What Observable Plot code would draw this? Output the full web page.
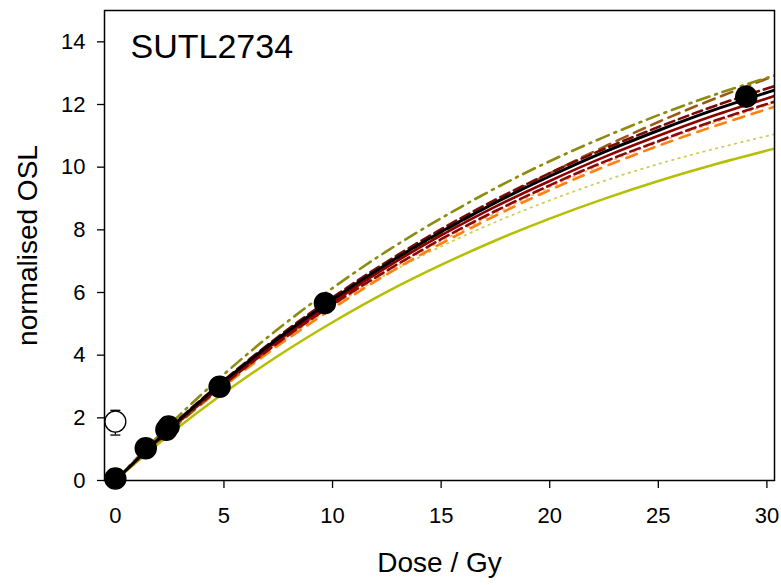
<!DOCTYPE html>
<html>
<head>
<meta charset="utf-8">
<script src="https://cdn.jsdelivr.net/npm/d3@7"></script>
<script src="https://cdn.jsdelivr.net/npm/@observablehq/plot@0.6"></script>
<style>
  html, body { margin: 0; padding: 0; background: #fff; }
  #chart { width: 781px; height: 585px; }
  svg { font-family: "Liberation Sans", Arial, sans-serif; }
</style>
</head>
<body>
<div id="chart"></div>
<script>
// ---- data ----
const sampleLabel = "SUTL2734";
const xTicks = [0, 5, 10, 15, 20, 25, 30];
const yTicks = [0, 2, 4, 6, 8, 10, 12, 14];

const doseGrid = [0, 2.5, 5, 7.5, 10, 12.5, 15, 17.5, 20, 22.5, 25, 27.5, 30.4];

const curveBlack       = [0, 1.66, 3.17, 4.54, 5.78, 6.91, 7.94, 8.87, 9.71, 10.48, 11.17, 11.81, 12.47];
const curveRedSolid    = [0, 1.64, 3.12, 4.47, 5.69, 6.81, 7.82, 8.74, 9.56, 10.32, 11.00, 11.63, 12.28];
const curveRedDashHi   = [0, 1.68, 3.20, 4.59, 5.84, 6.98, 8.02, 8.96, 9.81, 10.58, 11.28, 11.93, 12.60];
const curveRedDashLo   = [0, 1.61, 3.07, 4.40, 5.61, 6.70, 7.70, 8.60, 9.42, 10.17, 10.83, 11.46, 12.10];
const curveOlive       = [0, 1.78, 3.39, 4.84, 6.14, 7.32, 8.37, 9.33, 10.19, 10.96, 11.66, 12.29, 12.94];
const curveBrown       = [0, 1.58, 3.05, 4.41, 5.66, 6.82, 7.89, 8.88, 9.80, 10.65, 11.44, 12.16, 12.93];
const curveOrange      = [0, 1.57, 3.01, 4.31, 5.49, 6.58, 7.56, 8.45, 9.27, 10.01, 10.68, 11.29, 11.94];
const curveOrangeDot   = [0, 1.59, 3.04, 4.35, 5.54, 6.65, 7.64, 8.53, 9.36, 10.11, 10.79, 11.40, 12.06];
const curveLimeDot     = [0, 1.66, 3.13, 4.42, 5.57, 6.58, 7.47, 8.25, 8.94, 9.56, 10.10, 10.57, 11.06];
const curveLimeSolid   = [0, 1.47, 2.79, 3.98, 5.05, 6.02, 6.88, 7.66, 8.36, 8.99, 9.56, 10.07, 10.60];

// measured points (filled)
const pointDose = [0, 1.4, 2.35, 2.45, 4.8, 9.65, 29.05];
const pointOSL  = [0.06, 1.03, 1.62, 1.72, 2.99, 5.66, 12.25];

// natural (zero-dose) point with error bar (open)
const natDose = [0];
const natOSL  = [1.88];
const natLow  = [1.45];
const natHigh = [2.24];

// ---- series styling ----
const curves = [
  {name: "limeSolid", values: curveLimeSolid, color: "#b5bf00", width: 2.5, dash: null},
  {name: "limeDot",   values: curveLimeDot,   color: "#c9d05a", width: 1.8, dash: "1.5,5"},
  {name: "orangeDot", values: curveOrangeDot, color: "#ffb070", width: 1.8, dash: "1.5,5"},
  {name: "orange",    values: curveOrange,    color: "#ff8010", width: 2.6, dash: "11,8"},
  {name: "brown",     values: curveBrown,     color: "#9a5a14", width: 2.6, dash: "12,7"},
  {name: "olive",     values: curveOlive,     color: "#8c8c10", width: 2.6, dash: "13,6,2,6"},
  {name: "redLo",     values: curveRedDashLo, color: "#8b0a0a", width: 2.6, dash: "10,5"},
  {name: "redHi",     values: curveRedDashHi, color: "#7a0a0a", width: 2.6, dash: "10,5"},
  {name: "redSolid",  values: curveRedSolid,  color: "#8b0000", width: 2.6, dash: null},
  {name: "black",     values: curveBlack,     color: "#000000", width: 3, dash: null}
];

const lineMarks = curves.map(c => Plot.line(
  doseGrid.map((d, i) => ({dose: d, osl: c.values[i]})),
  {x: "dose", y: "osl", stroke: c.color, strokeWidth: c.width,
   strokeDasharray: c.dash ?? undefined, curve: "natural", clip: true}
));

const points = pointDose.map((d, i) => ({dose: d, osl: pointOSL[i]}));
const nat = natDose.map((d, i) => ({dose: d, osl: natOSL[i], lo: natLow[i], hi: natHigh[i]}));

const hline = { draw(ctx, size) { const r = Math.sqrt(size / Math.PI); ctx.moveTo(-r, 0); ctx.lineTo(r, 0); } };

const chart = Plot.plot({
  width: 781,
  height: 585,
  marginLeft: 104,
  marginRight: 7,
  marginTop: 10,
  marginBottom: 105,
  style: {fontFamily: "Liberation Sans, Arial, sans-serif", background: "#fff", overflow: "visible"},
  x: {domain: [-0.5, 30.35]},
  y: {domain: [0, 15]},
  marks: [
    ...lineMarks,
    Plot.ruleX(nat, {x: "dose", y1: "lo", y2: "hi", stroke: "#000", strokeWidth: 1.3}),
    Plot.dot(nat, {x: "dose", y: "lo", symbol: hline, r: 5, stroke: "#000", strokeWidth: 1.3}),
    Plot.dot(nat, {x: "dose", y: "hi", symbol: hline, r: 5, stroke: "#000", strokeWidth: 1.3}),
    Plot.dot(nat, {x: "dose", y: "osl", r: 10.5, fill: "#fff", stroke: "#000", strokeWidth: 1.3}),
    Plot.dot(points, {x: "dose", y: "osl", r: 10.5, fill: "#000", stroke: "#000"}),
    Plot.frame({stroke: "#000", strokeWidth: 1.5}),
    Plot.axisX({ticks: xTicks, tickSize: 8, tickPadding: 19, fontSize: 22, label: null, strokeWidth: 1.3, tickFormat: d => String(d)}),
    Plot.axisY({ticks: yTicks, tickSize: 7, tickPadding: 12, fontSize: 22, label: null, strokeWidth: 1.3, tickFormat: d => String(d)}),
    Plot.text([sampleLabel], {frameAnchor: "top-left", dx: 26, dy: 23, text: d => d, fontSize: 34, textAnchor: "start", lineAnchor: "top", fill: "#000"}),
    Plot.text(["Dose / Gy"], {frameAnchor: "bottom", dy: 72, text: d => d, fontSize: 28, textAnchor: "middle", lineAnchor: "top", fill: "#000"}),
    Plot.text(["normalised OSL"], {frameAnchor: "left", dx: -76, text: d => d, fontSize: 28, rotate: -90, textAnchor: "middle", lineAnchor: "middle", fill: "#000"})
  ]
});
document.getElementById("chart").appendChild(chart);
</script>
</body>
</html>
